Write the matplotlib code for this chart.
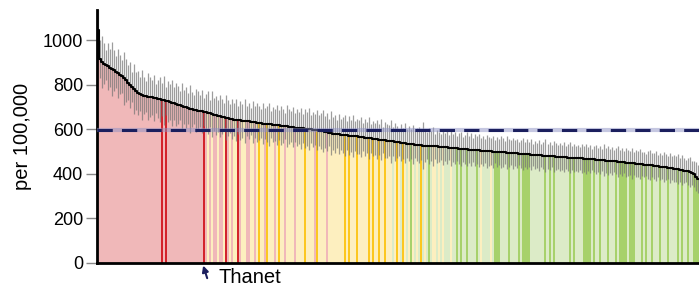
import matplotlib
matplotlib.use("Agg")
import matplotlib.pyplot as plt

plt.rcParams['font.family'] = ['Liberation Sans', 'DejaVu Sans']

# rate per 100,000 for each area, sorted high to low
rates = [
    1045, 915, 902, 895, 889, 882, 876, 870, 864, 858,
    852, 846, 838, 829, 820, 810, 800, 790, 781, 772,
    764, 758, 754, 751, 749, 747, 745, 743, 741, 739,
    737, 735, 733, 731, 728, 725, 722, 719, 716, 713,
    710, 707, 704, 701, 698, 695, 692, 690, 688, 686,
    684, 682, 680, 678, 676, 674, 671, 668, 665, 662,
    660, 658, 656, 654, 652, 650, 648, 646, 644, 642,
    641, 640, 639, 638, 637, 636, 635, 634, 632, 630,
    628, 627, 626, 625, 624, 623, 622, 621, 620, 619,
    618, 617, 616, 615, 614, 612, 611, 609, 608, 607,
    606, 605, 604, 603, 602, 601, 600, 599, 598, 597,
    595, 593, 591, 589, 587, 585, 583, 581, 579, 578,
    577, 576, 575, 574, 573, 572, 571, 570, 569, 568,
    567, 566, 565, 563, 562, 561, 559, 558, 556, 555,
    554, 553, 552, 551, 549, 548, 547, 546, 544, 543,
    541, 540, 538, 537, 536, 535, 533, 532, 531, 530,
    529, 528, 527, 527, 526, 526, 525, 524, 524, 523,
    522, 522, 521, 520, 519, 518, 517, 516, 515, 514,
    513, 512, 511, 510, 510, 509, 508, 507, 507, 506,
    505, 504, 504, 503, 502, 501, 501, 500, 499, 498,
    498, 497, 496, 496, 495, 494, 494, 493, 492, 492,
    491, 490, 489, 489, 488, 487, 486, 486, 485, 484,
    483, 483, 482, 481, 480, 480, 479, 478, 477, 477,
    476, 475, 475, 474, 473, 473, 472, 471, 471, 470,
    469, 469, 468, 467, 467, 466, 465, 465, 464, 463,
    462, 462, 461, 460, 459, 458, 457, 457, 456, 455,
    454, 453, 452, 451, 450, 449, 448, 447, 446, 445,
    444, 443, 442, 441, 440, 439, 438, 436, 435, 434,
    433, 432, 431, 430, 428, 427, 425, 424, 422, 421,
    419, 417, 415, 413, 411, 408, 404, 398, 388, 378,
]

# half width of the confidence interval
ci = [
    130, 85, 115, 92, 66, 104, 84, 120, 90, 72,
    110, 88, 74, 118, 96, 80, 104, 68, 112, 86,
    98, 76, 114, 84, 70, 106, 88, 78, 102, 66,
    86, 100, 74, 110, 64, 94, 82, 104, 72, 96,
    84, 66, 102, 76, 92, 70, 108, 78, 64, 96,
    88, 70, 98, 64, 82, 96, 60, 104, 74, 88,
    70, 94, 78, 62, 100, 82, 66, 90, 74, 96,
    64, 88, 76, 98, 66, 80, 60, 94, 72, 86,
    76, 64, 92, 70, 82, 96, 62, 80, 72, 90,
    68, 86, 76, 60, 94, 78, 70, 90, 64, 84,
    72, 92, 64, 86, 76, 96, 62, 80, 70, 90,
    68, 80, 94, 72, 86, 62, 100, 76, 84, 64,
    90, 70, 80, 92, 64, 86, 72, 96, 68, 80,
    76, 90, 62, 84, 70, 94, 64, 80, 72, 88,
    68, 92, 60, 80, 76, 70, 96, 64, 84, 72,
    62, 82, 70, 90, 64, 78, 68, 88, 60, 74,
    82, 66, 106, 72, 60, 80, 68, 88, 56, 76,
    68, 58, 82, 64, 74, 56, 80, 62, 72, 58,
    70, 78, 56, 66, 76, 60, 74, 54, 70, 62,
    76, 58, 68, 54, 74, 64, 60, 72, 52, 68,
    58, 72, 64, 52, 74, 62, 56, 70, 58, 66,
    52, 62, 72, 56, 68, 58, 70, 50, 64, 56,
    68, 52, 60, 74, 56, 64, 50, 70, 60, 54,
    64, 56, 68, 50, 60, 70, 54, 64, 56, 60,
    50, 66, 58, 68, 52, 62, 48, 58, 66, 54,
    62, 50, 72, 58, 66, 54, 62, 50, 58, 68,
    54, 62, 50, 66, 58, 54, 70, 50, 62, 58,
    66, 54, 58, 50, 62, 68, 54, 58, 66, 50,
    62, 54, 68, 58, 50, 66, 54, 62, 58, 68,
    54, 66, 58, 50, 62, 68, 54, 58, 66, 62,
]

# band of each area: p/P red (P highlighted), y/Y amber, g/G green
bands = (
    "pppppppppp" "pppppppppp" "pppppppppp" "ppPpPppppp" "pppppppppp"
    "pppPpypypp" "yppyPpypyy" "Ppyyppyypy" "YyypYyyypy" "Yyypyyyypy"
    "yyyYyyyypY" "yyyypyyyyy" "yyyYyYyyyY" "yyyyyYyYyy" "YyyYyyygyY"
    "ygYygyGygy" "gYgygGgyyg" "ygygggyggG" "gGggGggggG" "gyggggygGG"
    "GggggGgggg" "GgGGGGgggg" "gggGgGgGgg" "gggggGgGgg" "ggGGGGgGgg"
    "GgggGgggGg" "GGGGgGGGgg" "gGgGggGggg" "GgggGggggG" "gGggGggGGG"
)

band_colours = {
    'p': '#f0b8b9', 'P': '#d3232b',
    'y': '#fdefbf', 'Y': '#fcc71f',
    'g': '#dcebc7', 'G': '#a7d16b',
}

average = 596
highlight = 'Thanet'
highlight_idx = 53

x = list(range(len(rates)))
colours = [band_colours[b] for b in bands]

fig = plt.figure(figsize=(6.99, 2.89), dpi=100)
ax = fig.add_axes([0.1388, 0.09, 0.8612, 0.875])

ax.bar(x, rates, width=1.0, color=colours, linewidth=0, zorder=1)
ax.vlines(x, [r - c for r, c in zip(rates, ci)], [r + c for r, c in zip(rates, ci)],
          color='#747474', alpha=0.7, linewidth=0.9, zorder=2)
ax.plot(x, rates, color='black', linewidth=1.5, drawstyle='steps-mid', zorder=3)

ax.axhline(average, color='#8c90c4', linewidth=3, alpha=0.5, zorder=4)
ax.axhline(average, color='#1b1f5e', linewidth=2.2, linestyle=(0, (5, 3)), zorder=5)

ax.set_xlim(-0.5, len(rates) - 0.5)
ax.set_ylim(0, 1135)
ax.set_yticks([0, 200, 400, 600, 800, 1000])
ax.set_xticks([])
ax.tick_params(axis='y', length=8, width=1, color='#888888', labelsize=13, pad=2)
ax.set_ylabel('per 100,000', fontsize=14.5, labelpad=8)

for side in ['top', 'right']:
    ax.spines[side].set_visible(False)
ax.spines['left'].set_linewidth(2)
ax.spines['bottom'].set_linewidth(2)

# arrow under the highlighted bar
ax.annotate('', xy=(highlight_idx - 0.6, -0.01), xycoords=('data', 'axes fraction'),
            xytext=(highlight_idx + 1.4, -0.06), textcoords=('data', 'axes fraction'),
            arrowprops=dict(arrowstyle='-|>', color='#1b1f5e', lw=1.5, mutation_scale=9,
                            shrinkA=0, shrinkB=0),
            annotation_clip=False)
ax.text(highlight_idx + 7, -0.058, highlight, transform=ax.get_xaxis_transform(),
        fontsize=14.5, va='center', ha='left', clip_on=False)

fig.savefig('out.png', dpi=100)
